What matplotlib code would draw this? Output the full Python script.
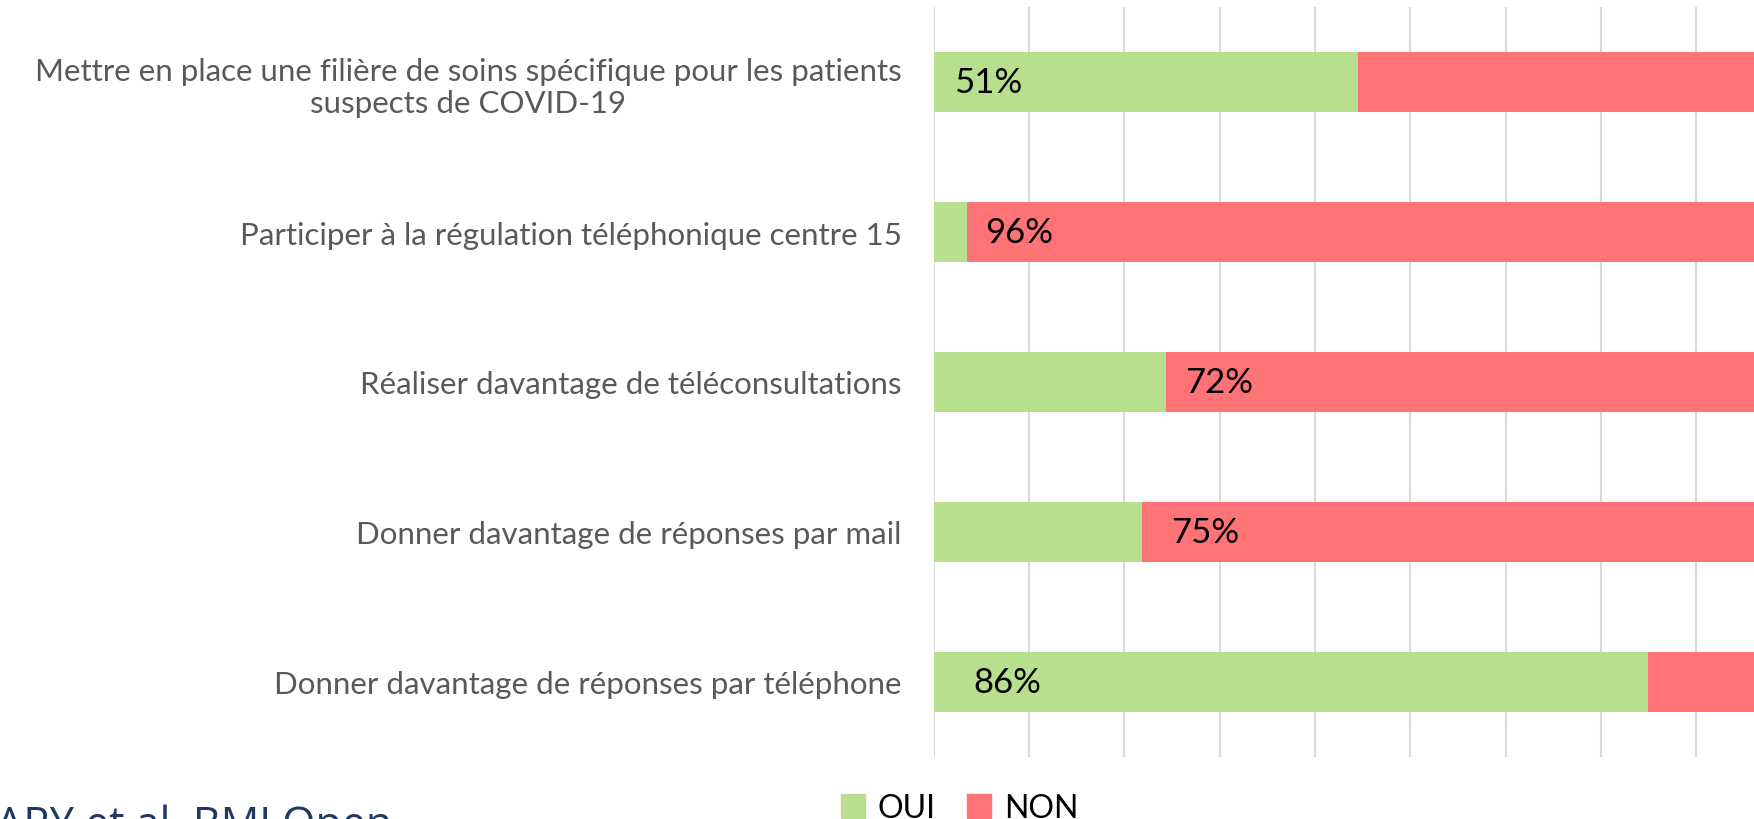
import matplotlib.pyplot as plt
from matplotlib.patches import Patch
import numpy as np

# ----------------------------------------------------------------------------
# Data (percent of respondents)
# ----------------------------------------------------------------------------
categories = [
    "Mettre en place une filière de soins spécifique pour les patients\nsuspects de COVID-19",
    "Participer à la régulation téléphonique centre 15",
    "Réaliser davantage de téléconsultations",
    "Donner davantage de réponses par mail",
    "Donner davantage de réponses par téléphone",
]
oui = [51, 4, 28, 25, 86]
non = [49, 96, 72, 75, 14]
# which segment carries the printed label
label_series = ["OUI", "NON", "NON", "NON", "OUI"]
label_pad = [2.4, 2.2, 2.3, 3.6, 4.8]

GREEN = '#B8DF8D'
RED = '#FF7276'
GRID = '#D9D9D9'

plt.rcParams['font.family'] = ['Lato', 'DejaVu Sans']

fig = plt.figure(figsize=(17.54, 8.20), dpi=100)
ax = fig.add_axes([933.8 / 1754, 1 - 758 / 820, 1 - 933.8 / 1754, 750 / 820])

y = np.arange(len(categories))
ax.barh(y, oui, height=0.4, color=GREEN, zorder=2)
ax.barh(y, non, left=oui, height=0.4, color=RED, zorder=2)

# value labels, placed near the start of the segment
for i in range(len(categories)):
    if label_series[i] == "OUI":
        start, val = 0, oui[i]
    else:
        start, val = oui[i], non[i]
    ax.text(start + label_pad[i], y[i], f"{val}%", va='center', ha='left',
            fontsize=25, color='black', zorder=3)

ax.set_ylim(4.5, -0.5)
ax.set_xlim(0, 98.7)
step = 100 / 8.72
ax.set_xticks(np.arange(0, 98.7, step))
ax.xaxis.grid(True, color=GRID, linewidth=1.5, zorder=0)
ax.tick_params(axis='x', length=0, labelbottom=False)
ax.set_yticks(y)
ax.set_yticklabels(categories, fontsize=22.5, color='#595959',
                   multialignment='center', linespacing=1.2)
ax.tick_params(axis='y', length=0, pad=23)
for s in ax.spines.values():
    s.set_visible(False)

handles = [Patch(color=GREEN, label='OUI'), Patch(color=RED, label='NON')]
fig.legend(handles=handles, loc='upper center', bbox_to_anchor=(0.547, 0.051),
           ncol=2, frameon=False, fontsize=23, handlelength=0.75, handleheight=0.75,
           handletextpad=0.4, columnspacing=1.0, borderpad=0)

fig.text(-0.002, 1 - 805 / 820, "ARY et al. BMJ Open", fontsize=31,
         color='#1F3864', ha='left', va='top', family=['Open Sans', 'DejaVu Sans'])

fig.savefig('out.png', dpi=100)
